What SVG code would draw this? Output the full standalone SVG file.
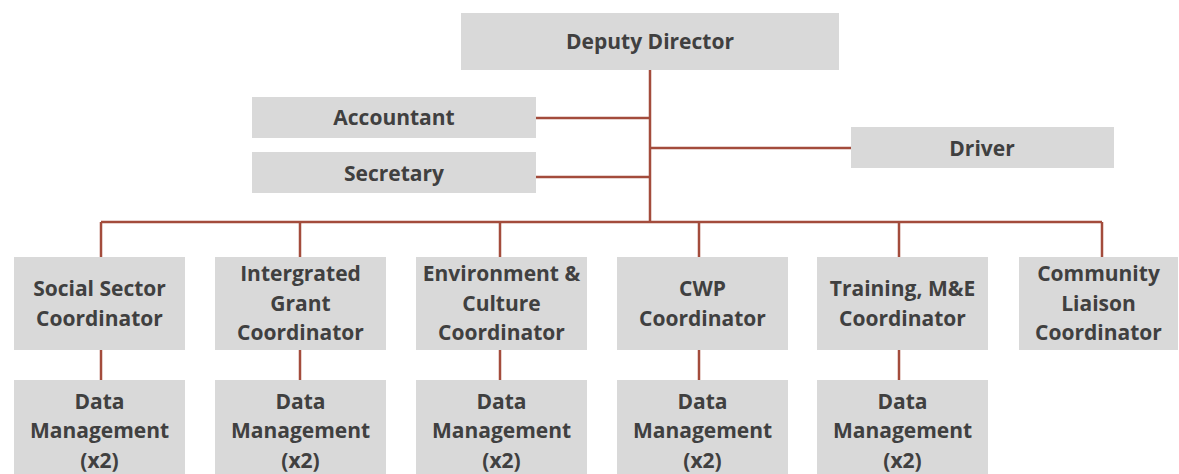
<svg xmlns="http://www.w3.org/2000/svg" width="1179" height="474" viewBox="0 0 1179 474">
<style>
.b{fill:#d9d9d9}
.t{font-family:"Open Sans","Noto Sans",sans-serif;font-weight:700;font-size:21px;fill:#404040;text-anchor:middle}
.c{stroke:#a34c3c;stroke-width:2.5;fill:none}
</style>
<rect width="1179" height="474" fill="#fff"/>
<g id="connectors" class="c">
<path d="M650 70V222M536 118H650M536 177H650M650 148H851"/>
<path d="M101 222H1102M101 222V257M300 222V257M500 222V257M699 222V257M899 222V257M1102 222V257"/>
<path d="M101 350V380M300 350V380M500 350V380M699 350V380M899 350V380"/>
</g>
<g id="deputy"><rect class="b" x="461" y="13" width="378" height="57"/><text class="t" x="650" y="49">Deputy Director</text></g>
<g id="accountant"><rect class="b" x="252" y="97" width="284" height="41"/><text class="t" x="394" y="125">Accountant</text></g>
<g id="secretary"><rect class="b" x="252" y="152" width="284" height="41"/><text class="t" x="394" y="181">Secretary</text></g>
<g id="driver"><rect class="b" x="851" y="127" width="263" height="41"/><text class="t" x="982" y="156">Driver</text></g>
<g id="social"><rect class="b" x="14" y="257" width="171" height="93"/><text class="t" x="99.5" y="296">Social Sector</text><text class="t" x="99.5" y="326">Coordinator</text></g>
<g id="grant"><rect class="b" x="215" y="257" width="171" height="93"/><text class="t" x="300.5" y="281">Intergrated</text><text class="t" x="300.5" y="311">Grant</text><text class="t" x="300.5" y="340">Coordinator</text></g>
<g id="environment"><rect class="b" x="416" y="257" width="171" height="93"/><text class="t" x="501.5" y="281">Environment &amp;</text><text class="t" x="501.5" y="311">Culture</text><text class="t" x="501.5" y="340">Coordinator</text></g>
<g id="cwp"><rect class="b" x="617" y="257" width="171" height="93"/><text class="t" x="702.5" y="296">CWP</text><text class="t" x="702.5" y="326">Coordinator</text></g>
<g id="training"><rect class="b" x="817" y="257" width="171" height="93"/><text class="t" x="902.5" y="296">Training, M&amp;E</text><text class="t" x="902.5" y="326">Coordinator</text></g>
<g id="community"><rect class="b" x="1019" y="257" width="159" height="93"/><text class="t" x="1098.5" y="281">Community</text><text class="t" x="1098.5" y="311">Liaison</text><text class="t" x="1098.5" y="340">Coordinator</text></g>
<g id="data1"><rect class="b" x="14" y="380" width="171" height="94"/><text class="t" x="99.5" y="409">Data</text><text class="t" x="99.5" y="438">Management</text><text class="t" x="99.5" y="468">(x2)</text></g>
<g id="data2"><rect class="b" x="215" y="380" width="171" height="94"/><text class="t" x="300.5" y="409">Data</text><text class="t" x="300.5" y="438">Management</text><text class="t" x="300.5" y="468">(x2)</text></g>
<g id="data3"><rect class="b" x="416" y="380" width="171" height="94"/><text class="t" x="501.5" y="409">Data</text><text class="t" x="501.5" y="438">Management</text><text class="t" x="501.5" y="468">(x2)</text></g>
<g id="data4"><rect class="b" x="617" y="380" width="171" height="94"/><text class="t" x="702.5" y="409">Data</text><text class="t" x="702.5" y="438">Management</text><text class="t" x="702.5" y="468">(x2)</text></g>
<g id="data5"><rect class="b" x="817" y="380" width="171" height="94"/><text class="t" x="902.5" y="409">Data</text><text class="t" x="902.5" y="438">Management</text><text class="t" x="902.5" y="468">(x2)</text></g>
</svg>
